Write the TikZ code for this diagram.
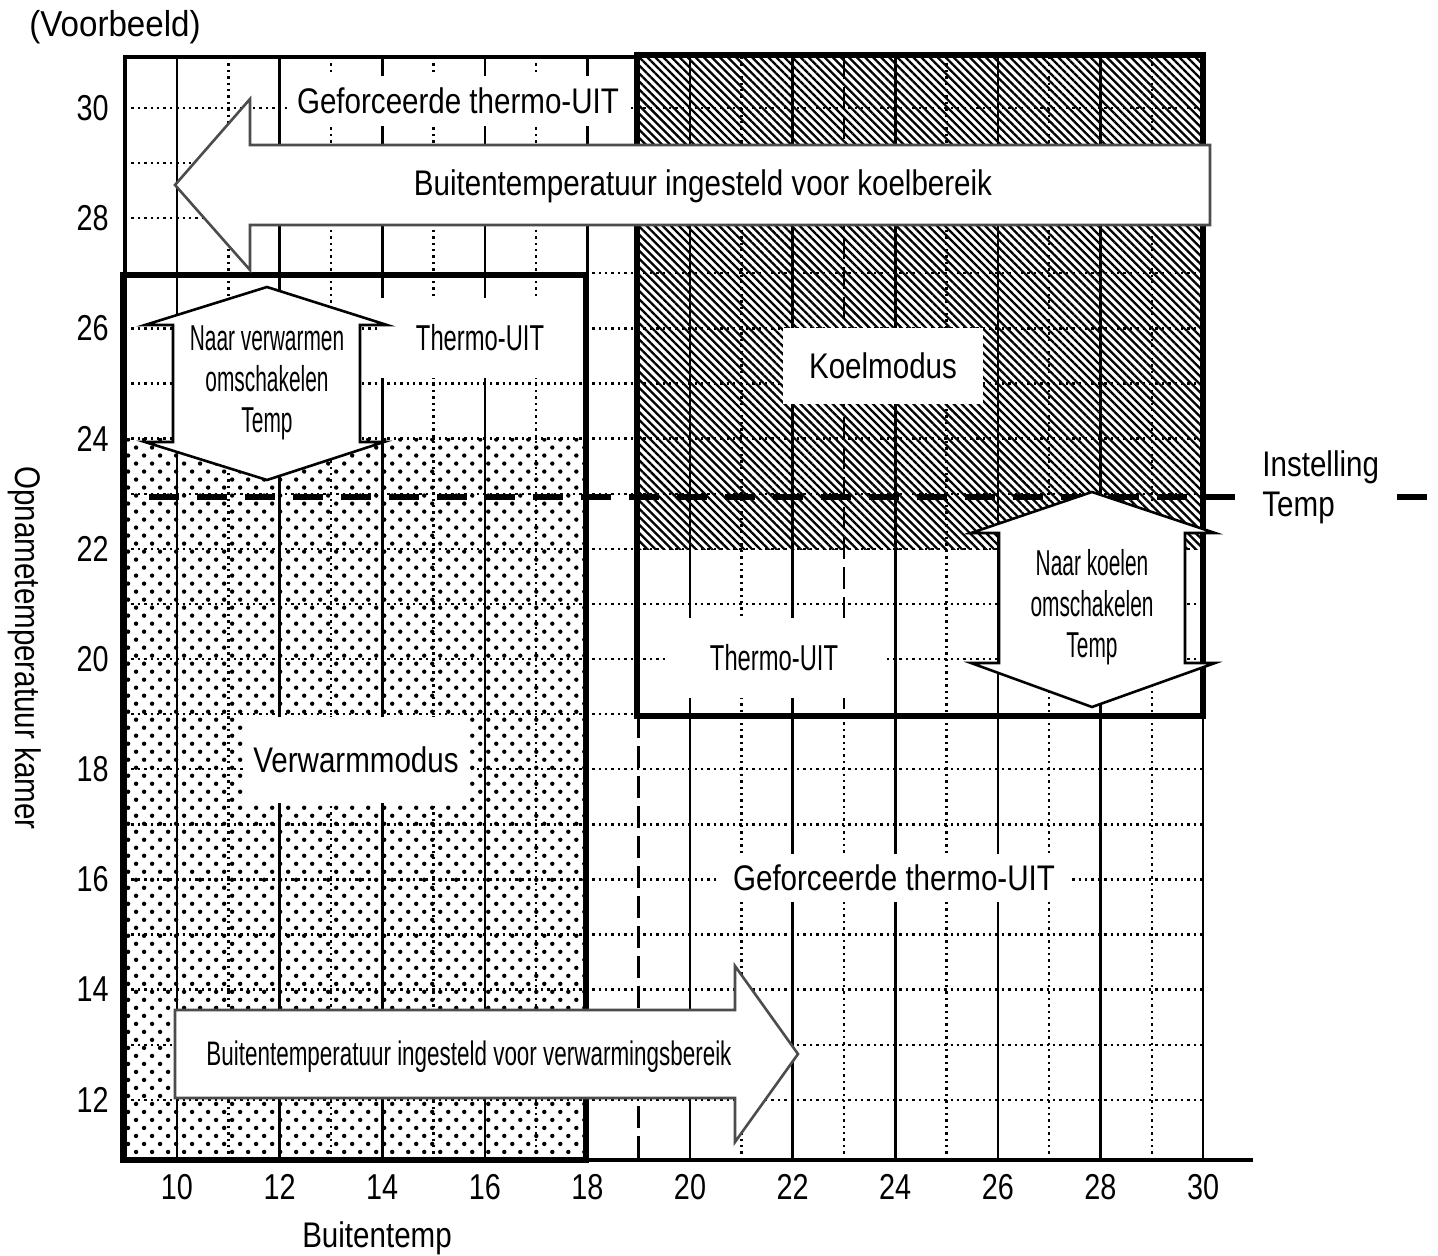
\documentclass[tikz,border=0pt]{standalone}
\usepackage{fontspec}
\setmainfont{Liberation Sans}
\newfontfamily\fa[FakeStretch=0.83]{Liberation Sans}
\newfontfamily\ft[FakeStretch=0.80]{Liberation Sans}
\newfontfamily\fb[FakeStretch=0.66]{Liberation Sans}
\newfontfamily\fc[FakeStretch=0.58]{Liberation Sans}
\newfontfamily\fd[FakeStretch=0.92]{Liberation Sans}
\usetikzlibrary{patterns.meta}
\begin{document}
\begin{tikzpicture}[x=0.5pt,y=-0.5pt,
  gsolid/.style={line width=1.3pt},
  gdot/.style={line width=1.2pt, dash pattern=on 1.2pt off 2pt},
  gdash/.style={line width=1.3pt, dash pattern=on 11pt off 4pt},
  bigbox/.style={line width=2.6pt},
  axisline/.style={line width=1.7pt},
  lbl/.style={fill=white, inner sep=0pt, font=\fa\fontsize{17.8}{20}\selectfont},
  thu/.style={fill=white, inner sep=0pt, font=\fb\fontsize{18}{20}\selectfont},
  tick/.style={font=\ft\fontsize{18}{20}\selectfont, inner sep=0pt},
  blockarr/.style={draw=black!70, line width=1.3pt, fill=white, line join=miter},
  dblarr/.style={draw=black, line width=1.3pt, fill=white, line join=miter},
  arrtxt/.style={font=\fc\fontsize{18}{20.5}\selectfont, align=center, inner sep=0pt},
  setp/.style={line width=3pt, dash pattern=on 15pt off 9pt}
]
\useasboundingbox (0,0) rectangle (1438,1256);

% ---- fills
\fill[pattern={Dots[distance=5.66pt,angle=45,radius=1.1pt]}] (125,439) rectangle (586,1160);
\fill[pattern={Lines[angle=-45,distance=2.85pt,line width=1.15pt]}] (637,55) rectangle (1203,549);

% ---- grid
\foreach \t in {12,...,30}
  \draw[gdot] (125,{108+(30-\t)*55.1}) -- (1203,{108+(30-\t)*55.1});
\foreach \t in {10,12,...,30}
  \draw[gsolid] ({177+(\t-10)*51.3},57) -- ({177+(\t-10)*51.3},1160);
\foreach \t in {11,13,15,17,21,25,27,29}
  \draw[gdot] ({177+(\t-10)*51.3},57) -- ({177+(\t-10)*51.3},1160);
\draw[gdash] (638.7,716) -- (638.7,1160);
\draw[gdash] (843.9,57) -- (843.9,716);
\draw[gdot] (843.9,716) -- (843.9,1160);

% ---- label boxes
\node[lbl, minimum width=170pt, minimum height=25pt] (lgef1) at (458,101) {Geforceerde thermo-UIT};
\node[thu, minimum width=102pt, minimum height=40pt] (lthu1) at (480,338) {Thermo-UIT};
\node[lbl, minimum width=100pt, minimum height=38pt] (lkoel) at (883,366) {Koelmodus};
\node[thu, minimum width=109pt, minimum height=40pt] (lthu2) at (774,658) {Thermo-UIT};
\node[lbl, minimum width=111pt, minimum height=43pt] (lverw) at (356,760) {Verwarmmodus};
\node[lbl, minimum width=176pt, minimum height=24pt] (lgef2) at (894,878) {Geforceerde thermo-UIT};

% ---- set point line
\coordinate (spA) at (149,497);
\coordinate (spB) at (1430,497);
\draw[setp] (spA) -- (spB);

% ---- frame and boxes
\draw[axisline] (637,57) -- (125,57) -- (125,1160) -- (1253,1160);
\draw[bigbox] (123,275) rectangle (586,1160);
\draw[bigbox] (637,55) rectangle (1203,716);

% ---- block arrows
\draw[blockarr] (1210,145) -- (250,145) -- (250,99) -- (175,185) -- (250,270) -- (250,225) -- (1210,225) -- cycle;
\node[lbl, fill=none] (tkoelb) at (703,186) {Buitentemperatuur ingesteld voor koelbereik};

\draw[blockarr] (175,1010) -- (735,1010) -- (735,966) -- (798,1054) -- (735,1142) -- (735,1098) -- (175,1098) -- cycle;
\node[font=\fb\fontsize{17}{20}\selectfont, inner sep=0pt] (tverwb) at (469,1057) {Buitentemperatuur ingesteld voor verwarmingsbereik};

\draw[dblarr] (267,287) -- (387,325) -- (360,325) -- (360,442) -- (384,442) -- (267,480) -- (145,442) -- (173,442) -- (173,325) -- (145,325) -- cycle;
\node[arrtxt] (tnaarv) at (267,383) {Naar verwarmen\\omschakelen\\Temp};

\draw[dblarr] (1092,492) -- (1215,533) -- (1185,533) -- (1185,663) -- (1215,663) -- (1092,707) -- (971,663) -- (999,663) -- (999,533) -- (971,533) -- cycle;
\node[arrtxt] (tnaark) at (1092,607) {Naar koelen\\omschakelen\\Temp};

% ---- set point label
\node[lbl, align=left, anchor=west, inner xsep=9pt, inner ysep=3pt] (linst) at (1244,487) {Instelling\\Temp};

% ---- ticks
\foreach \t in {12,14,...,30}
  \node[tick, anchor=east] (ty\t) at (109,{108+(30-\t)*55.1}) {\t};
\foreach \t in {10,12,...,30}
  \node[tick] (tx\t) at ({177+(\t-10)*51.3},1187) {\t};

% ---- titles
\node[font=\fd\fontsize{18}{20}\selectfont, inner sep=0pt] (voorb) at (115,27) {(Voorbeeld)};
\node[lbl, fill=none] (xlab) at (377,1238) {Buitentemp};
\node[lbl, fill=none, rotate=-90] (ylab) at (25,648) {Opnametemperatuur kamer};
\end{tikzpicture}
\end{document}
